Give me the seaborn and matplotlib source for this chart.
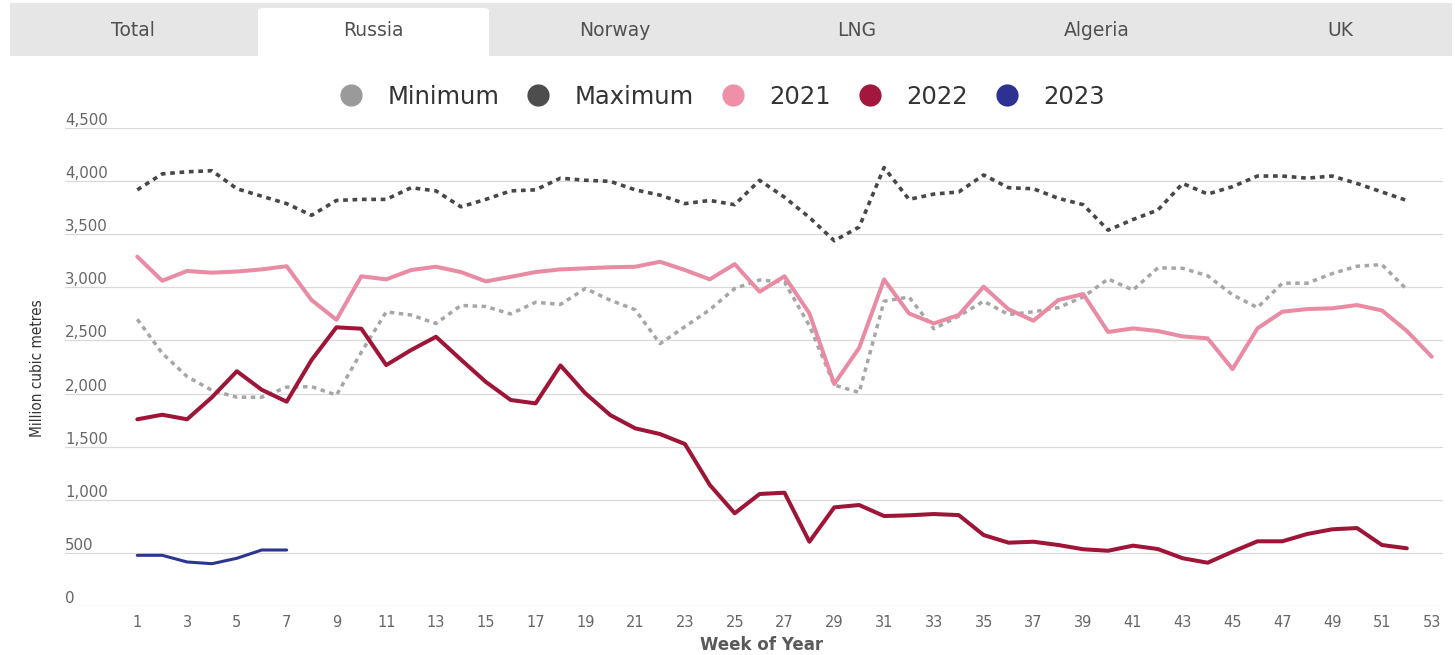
import matplotlib
matplotlib.use("Agg")
import matplotlib.pyplot as plt
from matplotlib.lines import Line2D
from matplotlib.patches import Rectangle, FancyBboxPatch
import seaborn as sns
import pandas as pd

# ---- data: weekly Russian pipeline gas flows (million cubic metres) ----
tabs = ["Total", "Russia", "Norway", "LNG", "Algeria", "UK"]
active_tab = "Russia"

series_names = ["Minimum", "Maximum", "2021", "2022", "2023"]

minimum = [2700, 2380, 2160, 2030, 1965, 1965, 2060, 2065, 1985, 2390,
           2770, 2740, 2660, 2830, 2820, 2750, 2860, 2840, 2990, 2880,
           2790, 2470, 2630, 2790, 2990, 3070, 3050, 2640, 2080, 2010,
           2870, 2910, 2610, 2730, 2870, 2745, 2770, 2810, 2910, 3080,
           2975, 3185, 3180, 3110, 2930, 2810, 3040, 3040, 3130, 3200,
           3215, 2980]

maximum = [3920, 4070, 4090, 4100, 3930, 3860, 3790, 3680, 3820, 3830,
           3830, 3940, 3910, 3760, 3830, 3910, 3920, 4030, 4010, 4000,
           3920, 3870, 3790, 3820, 3780, 4010, 3850, 3660, 3440, 3570,
           4130, 3830, 3880, 3900, 4060, 3940, 3930, 3840, 3780, 3540,
           3640, 3730, 3980, 3880, 3950, 4050, 4050, 4030, 4050, 3980,
           3900, 3820]

y2021 = [3290, 3063, 3155, 3139, 3150, 3170, 3200, 2881, 2695, 3105,
         3076, 3164, 3195, 3145, 3057, 3100, 3145, 3170, 3180, 3190,
         3195, 3242, 3164, 3076, 3220, 2960, 3105, 2756, 2090, 2430,
         3075, 2755, 2661, 2740, 3007, 2794, 2686, 2881, 2938, 2580,
         2614, 2589, 2538, 2520, 2230, 2614, 2771, 2796, 2803, 2834,
         2783, 2590, 2347]

y2022 = [1757, 1800, 1757, 1965, 2210, 2035, 1923, 2316, 2624, 2611,
         2268, 2410, 2535, 2320, 2110, 1939, 1907, 2265, 2002, 1797,
         1672, 1618, 1524, 1138, 871, 1053, 1065, 603, 927, 949,
         845, 852, 864, 854, 666, 594, 603, 572, 532, 518,
         566, 534, 447, 405, 509, 607, 607, 676, 720, 732,
         572, 541]

y2023 = [475, 475, 412, 396, 447, 525, 525]

x_ticks = list(range(1, 54, 2))
y_ticks = list(range(0, 4501, 500))

# ---- styling ----
colors = {
    "Minimum": "#a6a6a6",
    "Maximum": "#474747",
    "2021": "#e98ba3",
    "2022": "#9e1538",
    "2023": "#2c3690",
}
legend_colors = {
    "Minimum": "#9a9a9a",
    "Maximum": "#4d4d4d",
    "2021": "#ee90a8",
    "2022": "#a3173c",
    "2023": "#2e3192",
}

sns.set_theme(style="white")
plt.rcParams["font.family"] = ["DejaVu Sans"]

W, H = 1455, 655
fig = plt.figure(figsize=(W / 100, H / 100), dpi=100)
fig.patch.set_facecolor("white")


def fx(px):
    return px / W


def fy(py):
    return 1 - py / H


# tab strip
fig.patches.append(Rectangle((fx(10), fy(56)), fx(1452) - fx(10), fy(3) - fy(56),
                             transform=fig.transFigure, facecolor="#e6e6e6",
                             edgecolor="none", zorder=0))
tab_centers = [133, 373, 615, 857, 1097, 1340]
for name, cx in zip(tabs, tab_centers):
    if name == active_tab:
        fig.patches.append(FancyBboxPatch((fx(cx - 115), fy(60)), fx(231), fy(8) - fy(60),
                                          boxstyle="round,pad=0,rounding_size=0.004",
                                          transform=fig.transFigure, facecolor="white",
                                          edgecolor="none", zorder=1))
    fig.text(fx(cx), fy(30), name, ha="center", va="center", fontsize=13.5,
             color="#505050", zorder=2)

# plot area
left, right, top, bottom = 65, 1443, 128.3, 605.7
ax = fig.add_axes([fx(left), fy(bottom), fx(right) - fx(left), fy(top) - fy(bottom)])

px_per_week = (1431.7 - 137.3) / 52
ax.set_xlim(1 - (137.3 - left) / px_per_week, 53 + (right - 1431.7) / px_per_week)
ax.set_ylim(0, 4500)

frames = {
    "Minimum": minimum,
    "Maximum": maximum,
    "2021": y2021,
    "2022": y2022,
    "2023": y2023,
}
line_kw = {
    "Minimum": dict(lw=2.5, linestyle=(0, (1.3, 1.3))),
    "Maximum": dict(lw=2.6, linestyle=(0, (1.3, 1.3))),
    "2021": dict(lw=2.9),
    "2022": dict(lw=2.9),
    "2023": dict(lw=2.2),
}
for i, name in enumerate(series_names):
    vals = frames[name]
    df = pd.DataFrame({"week": range(1, len(vals) + 1), "value": vals})
    sns.lineplot(data=df, x="week", y="value", ax=ax, color=colors[name],
                 legend=False, zorder=3 + i, **line_kw[name])

# grid and axes
ax.set_yticks(y_ticks)
ax.set_xticks(x_ticks)
ax.grid(axis="y", color="#d9d9d9", lw=0.9, zorder=0)
ax.grid(axis="x", visible=False)
ax.set_axisbelow(True)
for s in ax.spines.values():
    s.set_visible(False)
ax.tick_params(axis="x", length=0, pad=7, labelsize=10.5, labelcolor="#666666")
ax.tick_params(axis="y", length=0, labelleft=False)
ax.set_xlabel("")
ax.set_ylabel("")

# y tick labels sit above each gridline at the left edge
for v in y_ticks:
    ax.text(0, v, f"{v:,}", transform=ax.get_yaxis_transform(), ha="left",
            va="bottom", fontsize=10.8, color="#666666")

fig.text(fx(38), fy(368), "Million cubic metres", rotation=90, ha="center",
         va="center", fontsize=11, color="#333333", fontstretch="condensed")
fig.text(fx(762), fy(645), "Week of Year", ha="center", va="center",
         fontsize=12, color="#5a5a5a", fontweight="bold")

# legend
handles = [Line2D([], [], ls="none", marker="o", markersize=16,
                  markerfacecolor=legend_colors[n], markeredgecolor="none")
           for n in series_names]
fig.legend(handles, series_names, loc="center", ncol=5,
           bbox_to_anchor=(fx(722), fy(97)), frameon=False, fontsize=17.5,
           labelcolor="#333333", handletextpad=1.0, columnspacing=1.1,
           handlelength=1.0)

fig.savefig("out.png", dpi=100)
